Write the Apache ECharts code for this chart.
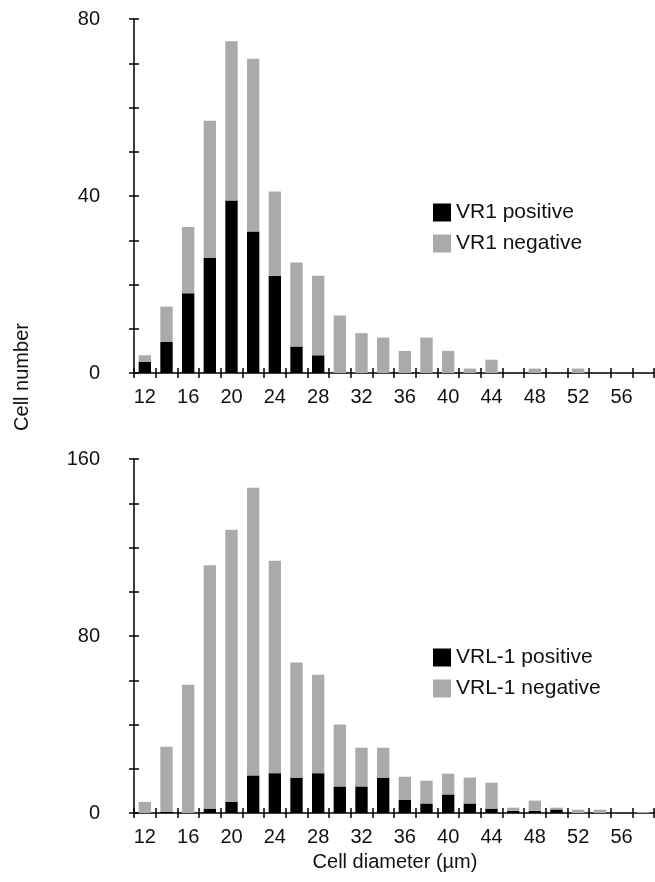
<!DOCTYPE html>
<html>
<head>
<meta charset="utf-8">
<script src="https://cdn.jsdelivr.net/npm/echarts@6/dist/echarts.min.js"></script>
<style>
  html, body { margin: 0; padding: 0; background: #fff; }
  #main { width: 655px; height: 882px; }
</style>
</head>
<body>
<div id="main"></div>
<script>
// bins of cell diameter (um)
var categories = ['12','14','16','18','20','22','24','26','28','30','32','34','36','38','40','42','44','46','48','50','52','54','56','58'];

// top panel: VR1
var vr1Pos = [2.5, 7, 18, 26, 39, 32, 22, 6, 4, 0, 0, 0, 0, 0, 0, 0, 0, 0, 0, 0, 0, 0, 0, 0];
var vr1Neg = [1.5, 8, 15, 31, 36, 39, 19, 19, 18, 13, 9, 8, 5, 8, 5, 1, 3, 0, 1, 0, 1, 0, 0, 0];

// bottom panel: VRL-1
var vrlPos = [0, 0.5, 0, 2, 5, 17, 18, 16, 18, 12, 12, 16, 6, 4.3, 8.4, 4.3, 2, 1, 1, 1.6, 0, 0, 0, 0];
var vrlNeg = [5, 29.5, 58, 110, 123, 130, 96, 52, 44.5, 28, 17.5, 13.5, 10.4, 10.3, 9.4, 11.7, 11.7, 1.4, 4.6, 0.8, 1.5, 1.5, 0, 0.5];

var topTicks = [0, 40, 80];
var bottomTicks = [0, 80, 160];

var FONT = "'Liberation Sans', Arial, sans-serif";
var fs = 20;
var black = '#000';
var gray = '#aaaaaa';

var myChart = echarts.init(document.getElementById('main'));

function xMain(g) {
  return {
    type: 'category', gridIndex: g, data: categories,
    axisLine: { lineStyle: { color: black, width: 1.5 } },
    axisTick: { show: true, interval: 0, length: 5, lineStyle: { color: black, width: 1.5 } },
    axisLabel: { interval: 1, margin: 14, color: '#111', fontSize: fs, fontFamily: FONT },
    splitLine: { show: false }
  };
}
function xInner(g) {
  return {
    type: 'category', gridIndex: g, data: categories, position: 'bottom',
    axisLine: { show: false },
    axisTick: { show: true, inside: true, interval: 0, length: 5, lineStyle: { color: black, width: 1.5 } },
    axisLabel: { show: false },
    splitLine: { show: false }
  };
}
function yMain(g, max, step, labels) {
  return {
    type: 'value', gridIndex: g, min: 0, max: max, interval: step, position: 'left',
    axisLine: { show: true, lineStyle: { color: black, width: 1.5 } },
    axisTick: { show: true, length: 5, lineStyle: { color: black, width: 1.5 } },
    axisLabel: {
      margin: 34, color: '#111', fontSize: fs, fontFamily: FONT,
      formatter: function (v) { return labels.indexOf(v) >= 0 ? String(v) : ''; }
    },
    splitLine: { show: false }
  };
}
function yInner(g, max, step) {
  return {
    type: 'value', gridIndex: g, min: 0, max: max, interval: step, position: 'left', offset: 0,
    axisLine: { show: false },
    axisTick: { show: true, inside: true, length: 5, lineStyle: { color: black, width: 1.5 } },
    axisLabel: { show: false },
    splitLine: { show: false }
  };
}

var option = {
  animation: false,
  backgroundColor: '#fff',
  textStyle: { fontFamily: FONT },
  grid: [
    { left: 134, top: 19, width: 520, height: 354 },
    { left: 134, top: 459, width: 520, height: 354 }
  ],
  legend: [
    {
      orient: 'vertical', left: 428, top: 197, itemWidth: 18, itemHeight: 18, itemGap: 10,
      icon: 'rect', textStyle: { fontSize: 21, color: '#111', fontFamily: FONT },
      data: ['VR1 positive', 'VR1 negative']
    },
    {
      orient: 'vertical', left: 428, top: 642, itemWidth: 18, itemHeight: 18, itemGap: 10,
      icon: 'rect', textStyle: { fontSize: 21, color: '#111', fontFamily: FONT },
      data: ['VRL-1 positive', 'VRL-1 negative']
    }
  ],
  xAxis: [xMain(0), xInner(0), xMain(1), xInner(1)],
  yAxis: [yMain(0, 80, 10, topTicks), yInner(0, 80, 10), yMain(1, 160, 20, bottomTicks), yInner(1, 160, 20)],
  series: [
    { name: 'VR1 positive', type: 'bar', stack: 'a', xAxisIndex: 0, yAxisIndex: 0, data: vr1Pos,
      barCategoryGap: '43%', itemStyle: { color: black } },
    { name: 'VR1 negative', type: 'bar', stack: 'a', xAxisIndex: 0, yAxisIndex: 0, data: vr1Neg,
      barCategoryGap: '43%', itemStyle: { color: gray } },
    { name: 'VRL-1 positive', type: 'bar', stack: 'b', xAxisIndex: 2, yAxisIndex: 2, data: vrlPos,
      barCategoryGap: '43%', itemStyle: { color: black } },
    { name: 'VRL-1 negative', type: 'bar', stack: 'b', xAxisIndex: 2, yAxisIndex: 2, data: vrlNeg,
      barCategoryGap: '43%', itemStyle: { color: gray } }
  ],
  graphic: [
    { type: 'text', x: 22, y: 377, rotation: Math.PI / 2,
      style: { text: 'Cell number', fontSize: fs, fontFamily: FONT, fill: '#111', align: 'center', verticalAlign: 'middle' } },
    { type: 'text', x: 395, y: 862,
      style: { text: 'Cell diameter (\u00b5m)', fontSize: fs, fontFamily: FONT, fill: '#111', align: 'center', verticalAlign: 'middle' } }
  ]
};

myChart.setOption(option);
</script>
</body>
</html>
